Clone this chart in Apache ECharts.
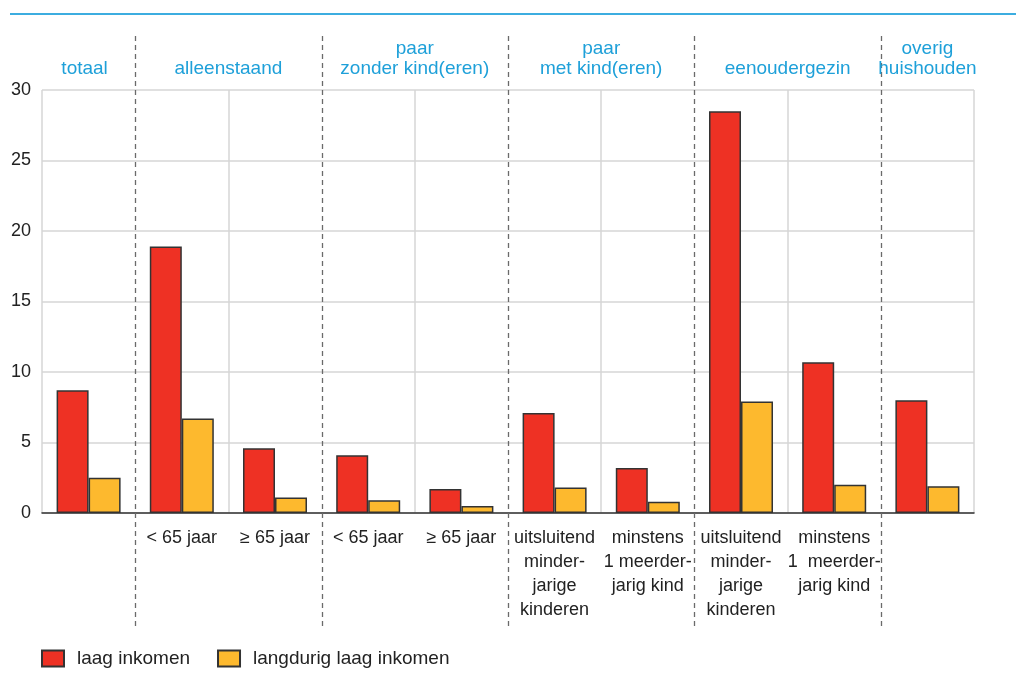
<!DOCTYPE html>
<html>
<head>
<meta charset="utf-8">
<script src="https://cdn.jsdelivr.net/npm/echarts@6/dist/echarts.min.js"></script>
<style>
html,body{margin:0;padding:0;background:#fff;}
#chart{width:1016px;height:684px;}
</style>
</head>
<body>
<div id="chart"></div>
<script>
// ---- data ----
var categoryKeys = ['tot', 'al1', 'al2', 'pz1', 'pz2', 'pm1', 'pm2', 'eo1', 'eo2', 'ov'];
var categoryLabels = ['', '< 65 jaar', '\u2265 65 jaar', '< 65 jaar', '\u2265 65 jaar',
  'uitsluitend\nminder-\njarige\nkinderen', 'minstens\n1 meerder-\njarig kind',
  'uitsluitend\nminder-\njarige\nkinderen', 'minstens\n1  meerder-\njarig kind', ''];
var groupNames = ['totaal', 'alleenstaand', 'paar\nzonder kind(eren)', 'paar\nmet kind(eren)', 'eenoudergezin', 'overig\nhuishouden'];
var groupStart = [0, 1, 3, 5, 7, 9];
var groupEnd   = [0, 2, 4, 6, 8, 9];
var seriesNames = ['laag inkomen', 'langdurig laag inkomen'];
var laagInkomen = [8.7, 18.9, 4.6, 4.1, 1.7, 7.1, 3.2, 28.5, 10.7, 8.0];
var langdurigLaagInkomen = [2.5, 6.7, 1.1, 0.9, 0.5, 1.8, 0.8, 7.9, 2.0, 1.9];
var yTicks = {min: 0, max: 30, interval: 5};

var FONT = '"Liberation Sans", Arial, sans-serif';
var chart = echarts.init(document.getElementById('chart'));
var groupBoundaryIdx = groupStart.slice(1);

chart.setOption({
  animation: false,
  backgroundColor: '#fff',
  grid: {left: 42, right: 42, top: 90, bottom: 171, containLabel: false},
  legend: {
    left: 36, top: 644, itemWidth: 22, itemHeight: 16, itemGap: 27,
    icon: 'rect',
    data: seriesNames,
    textStyle: {fontFamily: FONT, fontSize: 19, color: '#222', padding: [0, 0, 0, 8]}
  },
  xAxis: {
    type: 'category',
    data: categoryKeys,
    axisLine: {lineStyle: {color: '#333', width: 1.5}},
    axisTick: {alignWithLabel: true, length: 9, lineStyle: {color: '#333', width: 1.5}},
    axisLabel: {
      interval: 0, margin: 13, fontFamily: FONT, fontSize: 18, color: '#222',
      lineHeight: 24, align: 'center',
      formatter: function (v, i) { return categoryLabels[i]; }
    },
    splitLine: {
      show: true,
      interval: function (i) { return groupBoundaryIdx.indexOf(i) < 0; },
      lineStyle: {color: '#d6d6d6', width: 1.5}
    }
  },
  yAxis: {
    type: 'value', min: yTicks.min, max: yTicks.max, interval: yTicks.interval,
    axisLine: {show: false}, axisTick: {show: false},
    axisLabel: {fontFamily: FONT, fontSize: 18, color: '#222', margin: 11},
    splitLine: {lineStyle: {color: '#d6d6d6', width: 1.5}}
  },
  series: [
    {name: seriesNames[0], type: 'bar', data: laagInkomen, barWidth: 32, barGap: '0%',
     itemStyle: {color: '#ee3124', borderColor: '#333', borderWidth: 1.5}},
    {name: seriesNames[1], type: 'bar', data: langdurigLaagInkomen, barWidth: 32, barGap: '0%',
     itemStyle: {color: '#fdb92e', borderColor: '#333', borderWidth: 1.5}}
  ]
});

function px(i) { return chart.convertToPixel({xAxisIndex: 0}, categoryKeys[i]); }
var band = px(1) - px(0);
function leftEdge(i) { return px(i) - band / 2; }
function rightEdge(i) { return px(i) + band / 2; }

var graphics = [];
graphics.push({type: 'line', shape: {x1: 10, y1: 14, x2: 1016, y2: 14},
  style: {stroke: '#3cade0', lineWidth: 2}, z: 10});
groupBoundaryIdx.forEach(function (i) {
  var x = Math.round(leftEdge(i)) + 0.5;
  graphics.push({type: 'line', shape: {x1: x, y1: 36, x2: x, y2: 628},
    style: {stroke: '#6a6a6a', lineWidth: 1.3, lineDash: [5, 4]}, z: 10});
});
groupNames.forEach(function (g, k) {
  var cx = (leftEdge(groupStart[k]) + rightEdge(groupEnd[k])) / 2;
  if (k === 0) cx -= 4;
  graphics.push({type: 'text', x: cx, y: 79, z: 10,
    style: {text: g, fill: '#1ea0d9', font: '19px ' + FONT, lineHeight: 20,
      textAlign: 'center', textVerticalAlign: 'bottom', verticalAlign: 'bottom', align: 'center'}});
});
chart.setOption({graphic: graphics});
</script>
</body>
</html>
